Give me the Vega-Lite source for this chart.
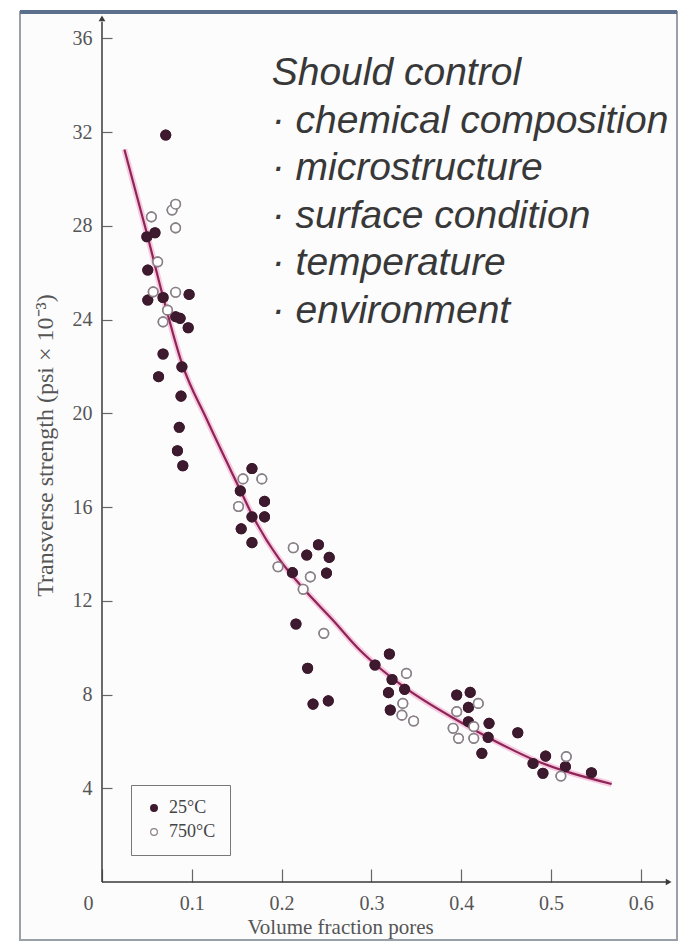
{
  "$schema": "https://vega.github.io/schema/vega-lite/v6.json",
  "width": 657,
  "height": 928,
  "autosize": {"type": "none"},
  "padding": {"left": 20, "top": 12, "right": 13, "bottom": 2},
  "background": "#ffffff",
  "config": {"view": {"stroke": "#9aa0a8", "strokeWidth": 2, "fill": "#fcfcfd"}},
  "datasets": {
    "points": [
      {"x": 0.071, "y": 31.87, "temp": "25°C"},
      {"x": 0.050, "y": 27.53, "temp": "25°C"},
      {"x": 0.059, "y": 27.70, "temp": "25°C"},
      {"x": 0.051, "y": 26.11, "temp": "25°C"},
      {"x": 0.051, "y": 24.83, "temp": "25°C"},
      {"x": 0.068, "y": 24.94, "temp": "25°C"},
      {"x": 0.097, "y": 25.07, "temp": "25°C"},
      {"x": 0.082, "y": 24.12, "temp": "25°C"},
      {"x": 0.087, "y": 24.05, "temp": "25°C"},
      {"x": 0.096, "y": 23.65, "temp": "25°C"},
      {"x": 0.068, "y": 22.53, "temp": "25°C"},
      {"x": 0.063, "y": 21.56, "temp": "25°C"},
      {"x": 0.089, "y": 21.98, "temp": "25°C"},
      {"x": 0.088, "y": 20.73, "temp": "25°C"},
      {"x": 0.086, "y": 19.40, "temp": "25°C"},
      {"x": 0.084, "y": 18.40, "temp": "25°C"},
      {"x": 0.090, "y": 17.76, "temp": "25°C"},
      {"x": 0.167, "y": 17.64, "temp": "25°C"},
      {"x": 0.154, "y": 16.69, "temp": "25°C"},
      {"x": 0.181, "y": 16.24, "temp": "25°C"},
      {"x": 0.167, "y": 15.58, "temp": "25°C"},
      {"x": 0.181, "y": 15.58, "temp": "25°C"},
      {"x": 0.155, "y": 15.07, "temp": "25°C"},
      {"x": 0.167, "y": 14.48, "temp": "25°C"},
      {"x": 0.241, "y": 14.39, "temp": "25°C"},
      {"x": 0.228, "y": 13.95, "temp": "25°C"},
      {"x": 0.253, "y": 13.85, "temp": "25°C"},
      {"x": 0.212, "y": 13.20, "temp": "25°C"},
      {"x": 0.250, "y": 13.18, "temp": "25°C"},
      {"x": 0.216, "y": 11.01, "temp": "25°C"},
      {"x": 0.229, "y": 9.12, "temp": "25°C"},
      {"x": 0.235, "y": 7.59, "temp": "25°C"},
      {"x": 0.252, "y": 7.73, "temp": "25°C"},
      {"x": 0.320, "y": 9.73, "temp": "25°C"},
      {"x": 0.304, "y": 9.26, "temp": "25°C"},
      {"x": 0.323, "y": 8.64, "temp": "25°C"},
      {"x": 0.337, "y": 8.22, "temp": "25°C"},
      {"x": 0.319, "y": 8.08, "temp": "25°C"},
      {"x": 0.321, "y": 7.34, "temp": "25°C"},
      {"x": 0.395, "y": 7.98, "temp": "25°C"},
      {"x": 0.410, "y": 8.09, "temp": "25°C"},
      {"x": 0.408, "y": 7.45, "temp": "25°C"},
      {"x": 0.408, "y": 6.84, "temp": "25°C"},
      {"x": 0.431, "y": 6.77, "temp": "25°C"},
      {"x": 0.430, "y": 6.17, "temp": "25°C"},
      {"x": 0.423, "y": 5.49, "temp": "25°C"},
      {"x": 0.463, "y": 6.37, "temp": "25°C"},
      {"x": 0.480, "y": 5.06, "temp": "25°C"},
      {"x": 0.494, "y": 5.37, "temp": "25°C"},
      {"x": 0.491, "y": 4.64, "temp": "25°C"},
      {"x": 0.516, "y": 4.92, "temp": "25°C"},
      {"x": 0.545, "y": 4.66, "temp": "25°C"},
      {"x": 0.055, "y": 28.38, "temp": "750°C"},
      {"x": 0.078, "y": 28.67, "temp": "750°C"},
      {"x": 0.082, "y": 28.92, "temp": "750°C"},
      {"x": 0.082, "y": 27.91, "temp": "750°C"},
      {"x": 0.062, "y": 26.46, "temp": "750°C"},
      {"x": 0.057, "y": 25.18, "temp": "750°C"},
      {"x": 0.082, "y": 25.16, "temp": "750°C"},
      {"x": 0.068, "y": 23.90, "temp": "750°C"},
      {"x": 0.073, "y": 24.40, "temp": "750°C"},
      {"x": 0.157, "y": 17.20, "temp": "750°C"},
      {"x": 0.178, "y": 17.20, "temp": "750°C"},
      {"x": 0.152, "y": 16.02, "temp": "750°C"},
      {"x": 0.213, "y": 14.26, "temp": "750°C"},
      {"x": 0.196, "y": 13.45, "temp": "750°C"},
      {"x": 0.232, "y": 13.02, "temp": "750°C"},
      {"x": 0.224, "y": 12.49, "temp": "750°C"},
      {"x": 0.247, "y": 10.61, "temp": "750°C"},
      {"x": 0.339, "y": 8.90, "temp": "750°C"},
      {"x": 0.335, "y": 7.62, "temp": "750°C"},
      {"x": 0.334, "y": 7.12, "temp": "750°C"},
      {"x": 0.347, "y": 6.87, "temp": "750°C"},
      {"x": 0.419, "y": 7.62, "temp": "750°C"},
      {"x": 0.395, "y": 7.27, "temp": "750°C"},
      {"x": 0.391, "y": 6.56, "temp": "750°C"},
      {"x": 0.397, "y": 6.13, "temp": "750°C"},
      {"x": 0.414, "y": 6.13, "temp": "750°C"},
      {"x": 0.414, "y": 6.63, "temp": "750°C"},
      {"x": 0.517, "y": 5.35, "temp": "750°C"},
      {"x": 0.511, "y": 4.52, "temp": "750°C"}
    ],
    "curve": [
      {"x": 0.025, "y": 31.25},
      {"x": 0.050, "y": 27.67},
      {"x": 0.068, "y": 24.97},
      {"x": 0.089, "y": 22.13},
      {"x": 0.117, "y": 19.71},
      {"x": 0.154, "y": 16.72},
      {"x": 0.167, "y": 15.68},
      {"x": 0.198, "y": 13.74},
      {"x": 0.224, "y": 12.53},
      {"x": 0.257, "y": 11.18},
      {"x": 0.287, "y": 9.90},
      {"x": 0.304, "y": 9.30},
      {"x": 0.337, "y": 8.30},
      {"x": 0.395, "y": 6.91},
      {"x": 0.430, "y": 6.17},
      {"x": 0.480, "y": 5.23},
      {"x": 0.5675, "y": 4.18}
    ]
  },
  "layer": [
    {
      "data": {"name": "points"},
      "mark": {"type": "point", "shape": "circle", "size": 90, "strokeWidth": 1.6, "opacity": 1},
      "encoding": {
        "x": {
          "field": "x", "type": "quantitative",
          "scale": {"domain": [-0.0913, 0.6403], "nice": false, "zero": false},
          "axis": {
            "orient": "bottom", "offset": -58, "values": [0, 0.1, 0.2, 0.3, 0.4, 0.5, 0.6],
            "format": ".1~f", "domain": false, "grid": false,
            "tickSize": -13, "tickColor": "#666", "tickWidth": 1.2,
            "labelPadding": 24, "labelFont": "Liberation Serif", "labelFontSize": 20, "labelColor": "#555",
            "labelOffset": {"condition": {"test": "datum.value == 0", "value": -14}, "value": 0},
            "labelFlush": false,
            "title": "Volume fraction pores", "titleFont": "Liberation Serif", "titleFontSize": 21,
            "titleFontWeight": "normal", "titleColor": "#555", "titleX": 320, "titleY": 45,
            "titleBaseline": "middle", "titleAlign": "center"
          }
        },
        "y": {
          "field": "y", "type": "quantitative",
          "scale": {"domain": [-2.474, 37.12], "nice": false, "zero": false},
          "axis": {
            "orient": "left", "offset": -82, "values": [4, 8, 12, 16, 20, 24, 28, 32, 36],
            "domain": false, "grid": false,
            "tickSize": -10, "tickColor": "#666", "tickWidth": 1.2,
            "labelPadding": 20, "labelFont": "Liberation Serif", "labelFontSize": 20, "labelColor": "#555",
            "title": "Transverse strength (psi × 10⁻³)", "titleFont": "Liberation Serif", "titleFontSize": 24,
            "titleFontWeight": "normal", "titleColor": "#555", "titleX": -57, "titleY": 433,
            "titleAngle": 270, "titleBaseline": "middle", "titleAlign": "center"
          }
        },
        "fill": {
          "field": "temp", "type": "nominal",
          "scale": {"domain": ["25°C", "750°C"], "range": ["#3d1a2e", "#ffffff"]},
          "legend": {
            "orient": "none", "legendX": 111, "legendY": 773, "title": null,
            "strokeColor": "#777", "padding": 14, "rowPadding": 6,
            "labelFont": "Liberation Serif", "labelFontSize": 18, "labelColor": "#444",
            "symbolSize": 45, "symbolStrokeWidth": 1.2, "labelOffset": 6
          }
        },
        "stroke": {
          "field": "temp", "type": "nominal",
          "scale": {"domain": ["25°C", "750°C"], "range": ["#3d1a2e", "#8a8088"]},
          "legend": {
            "orient": "none", "legendX": 111, "legendY": 773, "title": null,
            "strokeColor": "#777", "padding": 14, "rowPadding": 6,
            "labelFont": "Liberation Serif", "labelFontSize": 18, "labelColor": "#444",
            "symbolSize": 45, "symbolStrokeWidth": 1.2, "labelOffset": 6
          }
        }
      }
    },
    {
      "data": {"values": [{}]},
      "mark": {"type": "rule", "stroke": "#5c6f8c", "strokeWidth": 4},
      "encoding": {
        "y": {"datum": 37.12, "type": "quantitative"}
      }
    },
    {
      "data": {"values": [{}]},
      "mark": {"type": "rule", "stroke": "#3a3a3a", "strokeWidth": 1.5},
      "encoding": {
        "x": {"datum": 0, "type": "quantitative"},
        "y": {"datum": 0, "type": "quantitative"},
        "y2": {"datum": 36.7}
      }
    },
    {
      "data": {"values": [{}]},
      "mark": {"type": "rule", "stroke": "#3a3a3a", "strokeWidth": 1.5},
      "encoding": {
        "x": {"datum": 0, "type": "quantitative"},
        "x2": {"datum": 0.628},
        "y": {"datum": 0, "type": "quantitative"}
      }
    },
    {
      "data": {"values": [{}]},
      "mark": {"type": "point", "shape": "triangle-up", "filled": true, "size": 45, "color": "#3a3a3a", "opacity": 1},
      "encoding": {
        "x": {"datum": 0, "type": "quantitative"},
        "y": {"datum": 36.85, "type": "quantitative"}
      }
    },
    {
      "data": {"values": [{}]},
      "mark": {"type": "point", "shape": "triangle-right", "filled": true, "size": 45, "color": "#3a3a3a", "opacity": 1},
      "encoding": {
        "x": {"datum": 0.631, "type": "quantitative"},
        "y": {"datum": 0, "type": "quantitative"}
      }
    },
    {
      "data": {"name": "curve"},
      "mark": {"type": "line", "interpolate": "monotone", "stroke": "#f2a9cc", "strokeWidth": 6, "opacity": 0.6},
      "encoding": {
        "x": {"field": "x", "type": "quantitative"},
        "y": {"field": "y", "type": "quantitative"}
      }
    },
    {
      "data": {"name": "curve"},
      "mark": {"type": "line", "interpolate": "monotone", "stroke": "#8e2457", "strokeWidth": 2.2},
      "encoding": {
        "x": {"field": "x", "type": "quantitative"},
        "y": {"field": "y", "type": "quantitative"}
      }
    },
    {
      "data": {"name": "points"},
      "mark": {"type": "point", "shape": "circle", "size": 90, "strokeWidth": 1.6, "opacity": 1},
      "encoding": {
        "x": {"field": "x", "type": "quantitative"},
        "y": {"field": "y", "type": "quantitative"},
        "fill": {"field": "temp", "type": "nominal"},
        "stroke": {"field": "temp", "type": "nominal"}
      }
    },
    {
      "data": {"values": [{"note": "Should control\n· chemical composition\n· microstructure\n· surface condition\n· temperature\n· environment"}]},
      "mark": {
        "type": "text", "lineBreak": "\n", "align": "left", "baseline": "alphabetic",
        "font": "Liberation Sans", "fontStyle": "italic", "fontSize": 39, "lineHeight": 47.5, "color": "#383838"
      },
      "encoding": {
        "x": {"datum": 0.189, "type": "quantitative"},
        "y": {"datum": 34.0, "type": "quantitative"},
        "text": {"field": "note"}
      }
    }
  ]
}
